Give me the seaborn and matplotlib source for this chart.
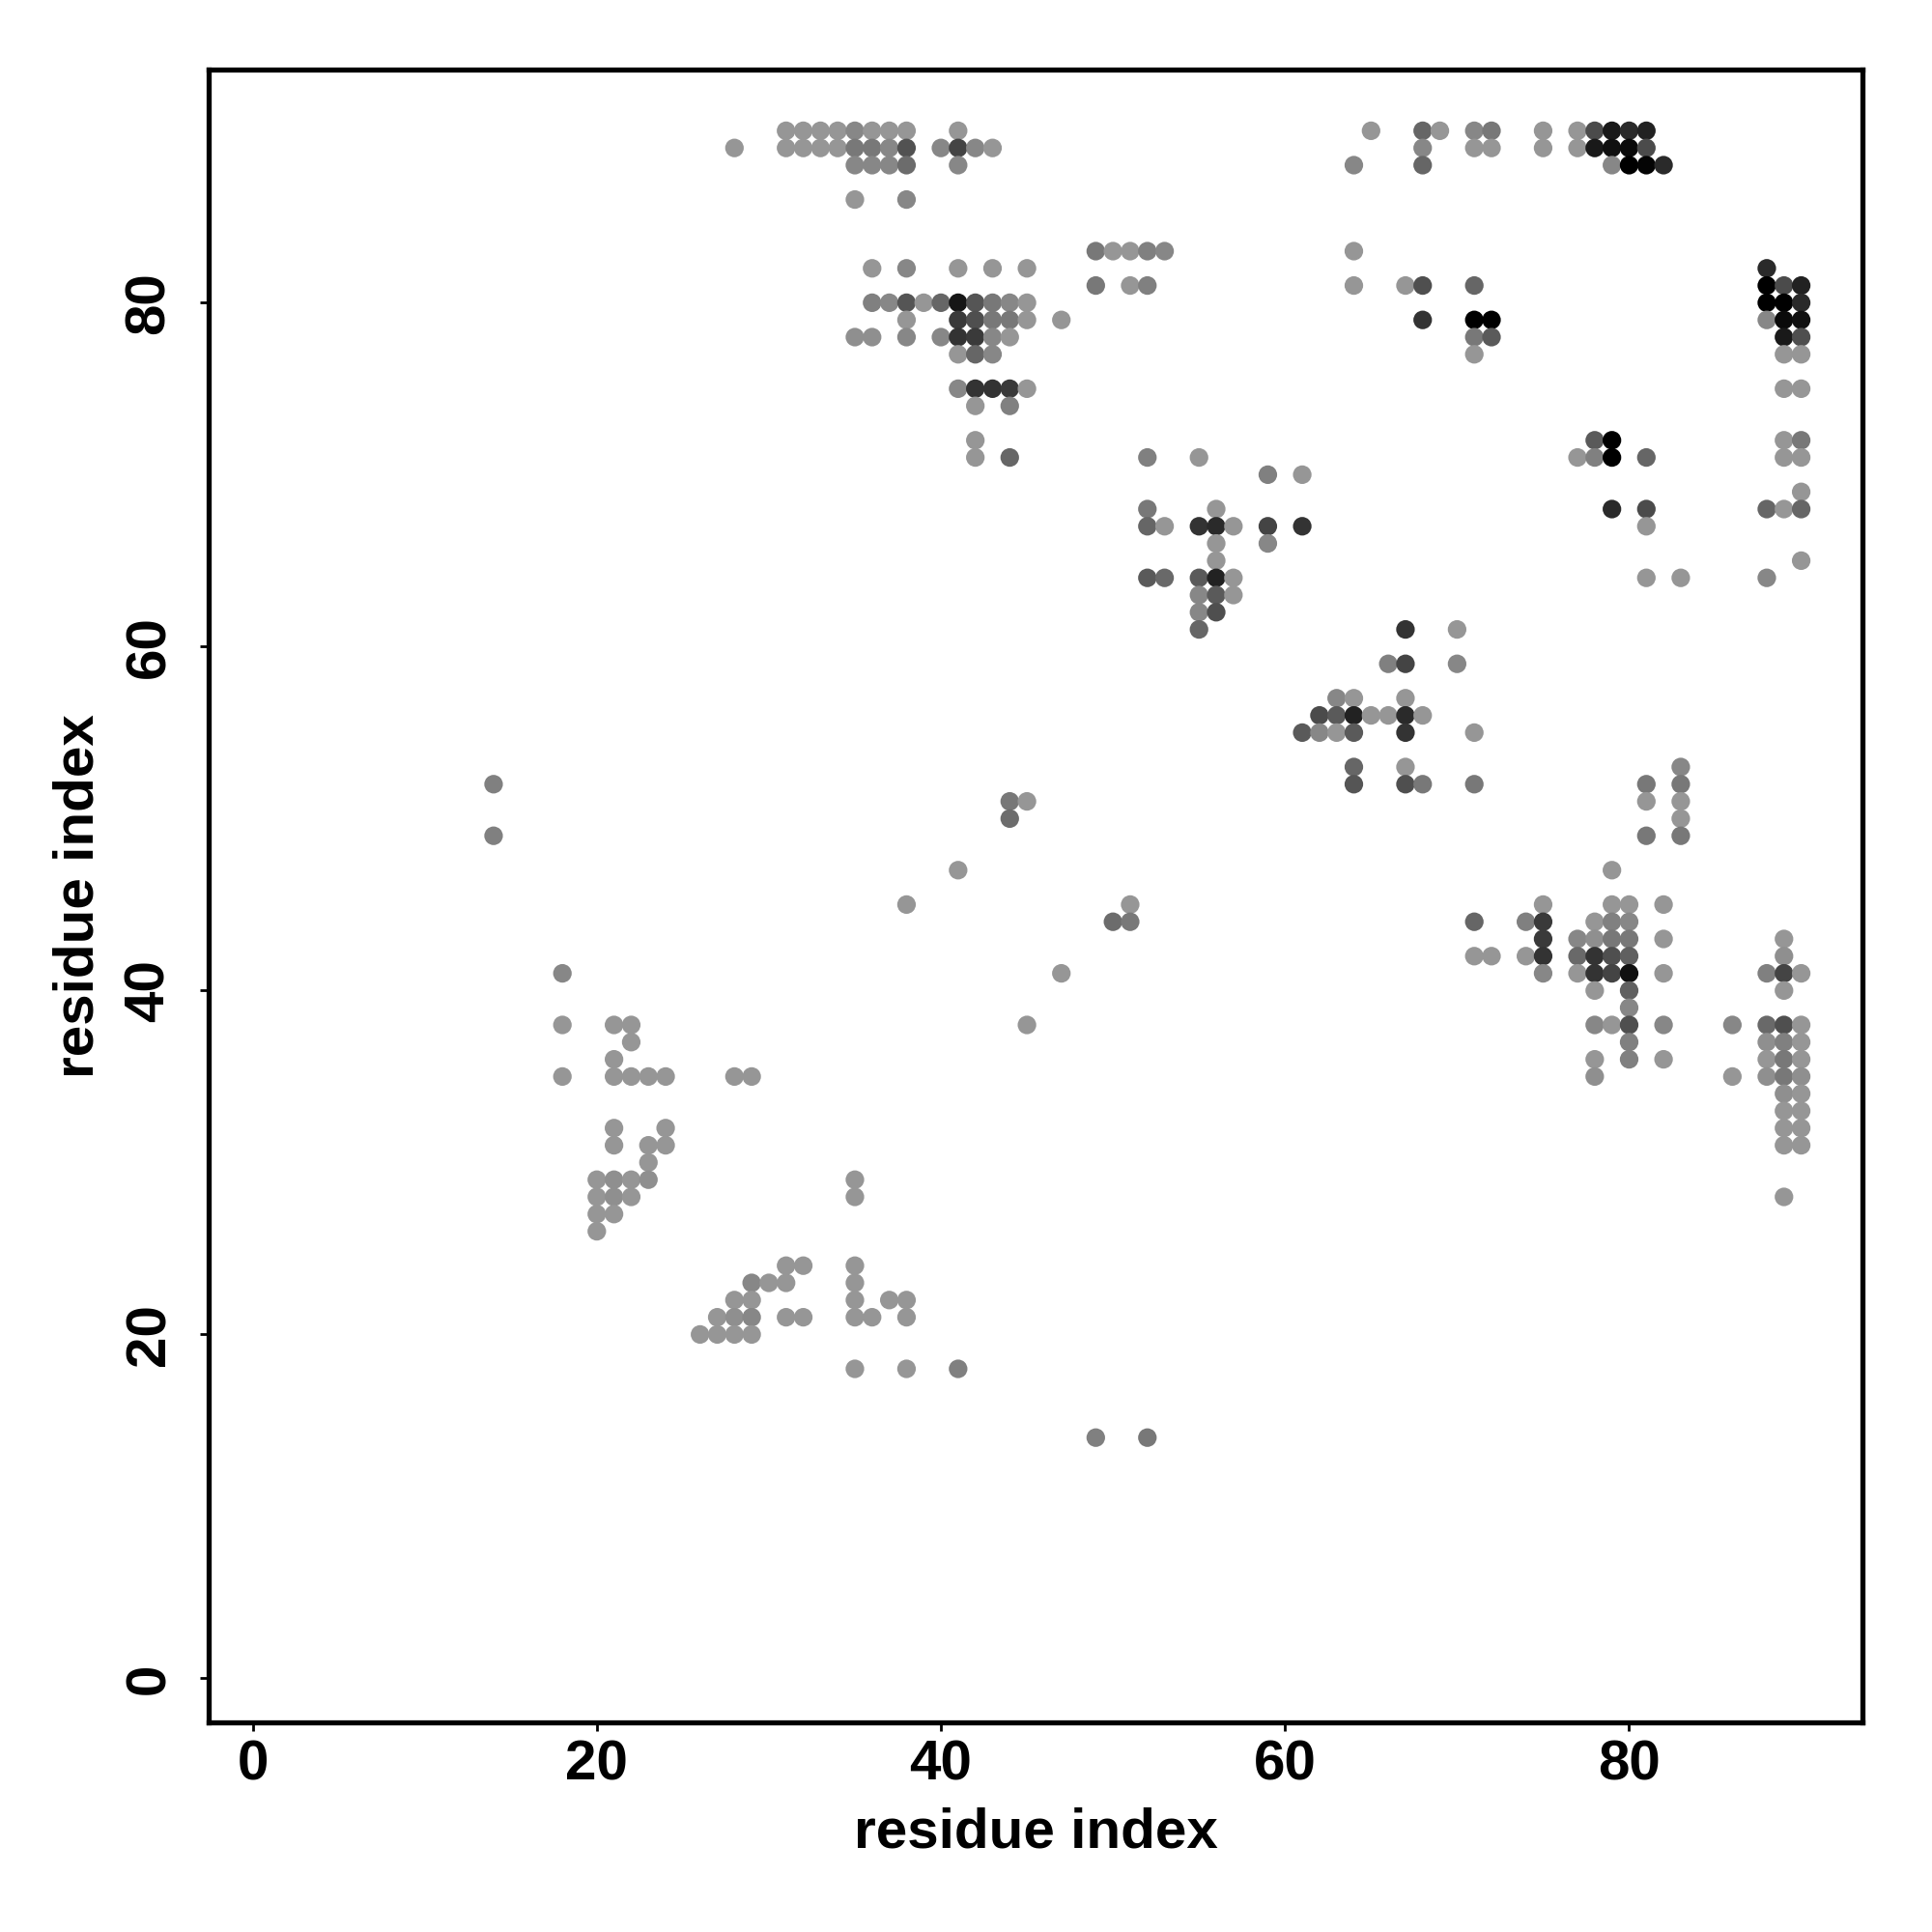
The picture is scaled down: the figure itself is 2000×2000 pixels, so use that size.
import matplotlib
matplotlib.use("Agg")
import matplotlib.pyplot as plt
from matplotlib.colors import LinearSegmentedColormap
import seaborn as sns
import pandas as pd

# contact map, one entry per row of the map (residue j), with the
# partner residues i on that row and a contact score per point (0 = weak, 1 = strong)
rows_j = [90, 89, 88, 86, 83, 82, 81, 80, 79, 78, 77, 75, 74, 72, 71, 70, 69, 68,
          67, 66, 65, 64, 63, 62, 61, 59, 57, 56, 55, 53, 52, 51, 50, 49, 47, 45,
          44, 43, 42, 41, 40, 39, 38, 37, 36, 35, 34, 33, 32, 31, 30, 29, 28, 27,
          26, 24, 23, 22, 21, 20, 18, 14]

rows_i = [
    [31, 32, 33, 34, 35, 36, 37, 38, 41, 65, 68, 69, 71, 72, 75, 77, 78, 79, 80, 81],
    [28, 31, 32, 33, 34, 35, 36, 37, 38, 40, 41, 42, 43, 68, 71, 72, 75, 77, 78, 79, 80, 81],
    [35, 36, 37, 38, 41, 64, 68, 79, 80, 81, 82],
    [35, 38],
    [49, 50, 51, 52, 53, 64],
    [36, 38, 41, 43, 45, 88],
    [49, 51, 52, 64, 67, 68, 71, 88, 89, 90],
    [36, 37, 38, 39, 40, 41, 42, 43, 44, 45, 88, 89, 90],
    [38, 41, 42, 43, 44, 45, 47, 68, 71, 72, 88, 89, 90],
    [35, 36, 38, 40, 41, 42, 43, 44, 71, 72, 89, 90],
    [41, 42, 43, 71, 89, 90],
    [41, 42, 43, 44, 45, 89, 90],
    [42, 44],
    [42, 78, 79, 89, 90],
    [42, 44, 52, 55, 77, 78, 79, 81, 89, 90],
    [59, 61],
    [90],
    [52, 56, 79, 81, 88, 89, 90],
    [52, 53, 55, 56, 57, 59, 61, 81],
    [56, 59],
    [56, 90],
    [52, 53, 55, 56, 57, 81, 83, 88],
    [55, 56, 57],
    [55, 56],
    [55, 67, 70],
    [66, 67, 70],
    [63, 64, 67],
    [62, 63, 64, 65, 66, 67, 68],
    [61, 62, 63, 64, 67, 71],
    [64, 67, 83],
    [14, 64, 67, 68, 71, 81, 83],
    [44, 45, 81, 83],
    [44, 83],
    [14, 81, 83],
    [41, 79],
    [38, 51, 75, 79, 80, 82],
    [50, 51, 71, 74, 75, 78, 79, 80],
    [75, 77, 78, 79, 80, 82, 89],
    [71, 72, 74, 75, 77, 78, 79, 80, 89],
    [18, 47, 75, 77, 78, 79, 80, 82, 88, 89, 90],
    [78, 80, 89],
    [80],
    [18, 21, 22, 45, 78, 79, 80, 82, 86, 88, 89, 90],
    [22, 80, 88, 89, 90],
    [21, 78, 80, 82, 88, 89, 90],
    [18, 21, 22, 23, 24, 28, 29, 78, 86, 88, 89, 90],
    [89, 90],
    [89, 90],
    [21, 24, 89, 90],
    [21, 23, 24, 89, 90],
    [23],
    [20, 21, 22, 23, 35],
    [20, 21, 22, 35, 89],
    [20, 21],
    [20],
    [31, 32, 35],
    [29, 30, 31, 35],
    [28, 29, 35, 37, 38],
    [27, 28, 29, 31, 32, 35, 36, 38],
    [26, 27, 28, 29],
    [35, 38, 41],
    [49, 52],
]

rows_score = [
    [0, 0, 0, 0, .1, 0, 0, 0, 0, 0, .32, 0, .1, .2, 0, 0, .5, .83, .72, .77],
    [0, 0, 0, 0, 0, .2, .2, .1, .45, .1, .55, .1, 0, .1, 0, 0, 0, 0, .83, .89, .93, .5],
    [.1, .1, .1, .28, .1, .1, .32, .1, 1, .97, .72],
    [0, .1],
    [.2, 0, 0, .15, .1, 0],
    [0, .1, 0, 0, 0, .72],
    [.2, 0, .15, 0, 0, .47, .32, 1, .5, .77],
    [.15, .1, .43, 0, .32, .85, .43, .2, .1, 0, 1, 1, .72],
    [0, .61, .47, .2, .2, 0, 0, .66, 1, 1, .1, .93, .89],
    [.05, .05, .1, .1, .66, .61, .1, 0, .2, .4, .83, .47],
    [0, .32, .1, 0, 0, 0],
    [.1, .66, .66, .61, 0, 0, 0],
    [0, .15],
    [0, .4, 1, 0, .2],
    [0, .32, .15, 0, 0, .15, 1, .32, 0, 0],
    [.15, 0],
    [0],
    [.2, 0, .72, .5, .32, 0, .32],
    [.32, 0, .66, .72, 0, .55, .66, 0],
    [0, .1],
    [0, 0],
    [.4, .3, .4, .77, 0, 0, 0, .1],
    [.1, .4, 0],
    [.1, .47],
    [.32, .66, 0],
    [.15, .55, .1],
    [.1, 0, 0],
    [.5, .4, .77, 0, 0, .72, 0],
    [.4, .1, 0, .4, .66, 0],
    [.32, 0, .1],
    [.15, .43, .47, .2, .2, .2, .2],
    [.2, 0, 0, 0],
    [.28, 0],
    [.15, .2, .2],
    [0, 0],
    [0, 0, 0, 0, 0, 0],
    [.28, .2, .32, .15, .61, 0, .15, .1],
    [.61, .1, .05, .2, .2, 0, 0],
    [0, 0, 0, .66, .3, .66, .47, .36, .05],
    [.1, 0, .1, 0, .66, .55, .89, 0, .15, .55, 0],
    [0, .36, 0],
    [.1],
    [0, 0, 0, 0, .1, 0, .47, .1, .1, .3, .47, 0],
    [0, .15, .05, .15, 0],
    [0, 0, .15, 0, 0, .2, 0],
    [0, 0, 0, 0, 0, 0, 0, .05, 0, .05, .2, .05],
    [.05, 0],
    [0, 0],
    [0, 0, 0, 0],
    [0, 0, 0, 0, 0],
    [0],
    [0, .05, 0, .05, 0],
    [0, .05, 0, 0, 0],
    [0, 0],
    [0],
    [0, 0, 0],
    [.1, 0, 0, 0],
    [0, 0, 0, 0, 0],
    [0, .05, .1, 0, 0, 0, 0, 0],
    [0, 0, 0, 0],
    [0, 0, .15],
    [.15, .2],
]

records = []
for j, xs, ss in zip(rows_j, rows_i, rows_score):
    for i, s in zip(xs, ss):
        records.append({"i": i, "j": j, "score": s})
df = pd.DataFrame(records)

sns.set_style("white")
plt.rcParams['font.family'] = ['Liberation Sans', 'DejaVu Sans']
plt.rcParams['font.weight'] = 'bold'
plt.rcParams['text.color'] = 'black'
plt.rcParams['axes.labelcolor'] = 'black'

grey_map = LinearSegmentedColormap.from_list("contact_grey", ["#969696", "#000000"])

fig = plt.figure(figsize=(10, 10), dpi=200)
ax = fig.add_axes([0.108, 0.1085, 0.856, 0.8555])

sns.scatterplot(data=df, x="i", y="j", hue="score", palette=grey_map,
                hue_norm=(0, 1), s=48, linewidth=0, edgecolor="none",
                legend=False, ax=ax)

ax.set_xlim(-2.56, 93.56)
ax.set_ylim(-2.56, 93.56)
ax.set_xticks([0, 20, 40, 60, 80])
ax.set_yticks([0, 20, 40, 60, 80])
ax.tick_params(axis="both", direction="out", length=3.2, width=1.0,
               labelsize=21, colors="black", left=True, bottom=True)
ax.tick_params(axis="x", pad=3)
ax.tick_params(axis="y", pad=9)
for lab in ax.get_yticklabels():
    lab.set_rotation(90)
    lab.set_va("center")
for lab in ax.get_xticklabels() + ax.get_yticklabels():
    lab.set_fontweight("bold")

ax.set_xlabel("residue index", fontsize=21, fontweight="bold", labelpad=6,
              color="black")
ax.set_ylabel("residue index", fontsize=21, fontweight="bold", labelpad=7,
              color="black")

for sp in ax.spines.values():
    sp.set_visible(True)
    sp.set_linewidth(1.9)
    sp.set_color("black")

fig.savefig("out.png", dpi=200, facecolor="white")
